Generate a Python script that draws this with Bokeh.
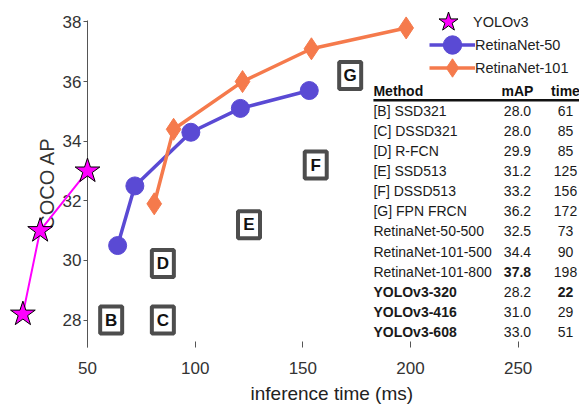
import math
from bokeh.plotting import figure
from bokeh.models import Range1d, FixedTicker, Label, Legend, LegendItem, ColumnDataSource, Title
from bokeh.core.properties import value
from bokeh.embed import file_html
from bokeh.resources import INLINE

# ---------------- data ----------------
yolo_time = [20, 28, 50]
yolo_ap = [28.2, 31.0, 33.0]
rn50_time = [64, 72, 98, 121, 153]
rn50_ap = [30.5, 32.5, 34.3, 35.1, 35.7]
rn101_time = [81, 90, 122, 154, 198]
rn101_ap = [31.9, 34.4, 36.0, 37.1, 37.8]

box_letters = ["B", "C", "D", "E", "F", "G"]
box_time = [61, 85, 85, 125, 156, 172]
box_ap = [28.0, 28.0, 29.9, 31.2, 33.2, 36.2]

table_header = ["Method", "mAP", "time"]
table_method = ["[B] SSD321", "[C] DSSD321", "[D] R-FCN", "[E] SSD513", "[F] DSSD513",
                "[G] FPN FRCN", "RetinaNet-50-500", "RetinaNet-101-500", "RetinaNet-101-800",
                "YOLOv3-320", "YOLOv3-416", "YOLOv3-608"]
table_map = ["28.0", "28.0", "29.9", "31.2", "33.2", "36.2", "32.5", "34.4", "37.8",
             "28.2", "31.0", "33.0"]
table_time = ["61", "85", "85", "125", "156", "172", "73", "90", "198", "22", "29", "51"]
bold_method = [False] * 9 + [True] * 3
bold_map = [False] * 8 + [True] + [False] * 3
bold_time = [False] * 9 + [True, False, False]

x_ticks = [50, 100, 150, 200, 250]
y_ticks = [28, 30, 32, 34, 36, 38]
x_label = "inference time (ms)"
y_label = "COCO AP"
series_labels = ["YOLOv3", "RetinaNet-50", "RetinaNet-101"]

# ---------------- style / layout ----------------
FONT = "Liberation Sans"
MAGENTA = "#ff00ff"
BLUE = "#5a4ad4"
ORANGE = "#f57a4c"
TXT = "#222222"

X0, X1 = 9.6, 278.5
Y0, Y1 = 27.08, 38.72

p = figure(width=579, height=411, output_backend="svg", toolbar_location=None,
           x_range=Range1d(X0, X1), y_range=Range1d(Y0, Y1),
           min_border_left=0, min_border_right=0, min_border_top=0, min_border_bottom=64)
p.grid.visible = False
p.outline_line_color = None
p.background_fill_color = "white"

# x axis
xa = p.xaxis[0]
xa.ticker = FixedTicker(ticks=x_ticks)
xa.axis_line_color = None
xa.major_tick_in = 6
xa.major_tick_out = 0
xa.minor_tick_line_color = None
xa.major_tick_line_color = "#555555"
xa.major_label_text_font = FONT
xa.major_label_text_font_size = "17px"
xa.major_label_text_color = "#333333"
xa.major_label_standoff = 14

# x axis title, placed under the axis
p.add_layout(Title(text=x_label, align="left", offset=250, text_font=FONT,
                   text_font_size="19px", text_font_style="normal", text_color=TXT,
                   standoff=9), "below")

# y axis
ya = p.yaxis[0]
ya.fixed_location = 50
ya.bounds = (Y0, 38.05)
ya.ticker = FixedTicker(ticks=y_ticks)
ya.axis_line_color = "#555555"
ya.major_tick_out = 4
ya.major_tick_in = 0
ya.minor_tick_line_color = None
ya.major_tick_line_color = "#555555"
ya.major_label_text_font = FONT
ya.major_label_text_font_size = "17px"
ya.major_label_text_color = "#333333"
ya.major_label_standoff = 2
ya.level = "underlay"

p.add_layout(Label(x=31.4, y=32.58, angle=math.pi / 2, text=y_label, text_align="center",
                   text_baseline="middle", text_font=FONT, text_font_size="20px",
                   text_color="#333333", level="underlay"))

# series
p.line(yolo_time, yolo_ap, line_color=MAGENTA, line_width=2)
yolo_pts = p.scatter(yolo_time, yolo_ap, marker="star", size=26, fill_color=MAGENTA,
                     line_color="black", line_width=1)
rn50_line = p.line(rn50_time, rn50_ap, line_color=BLUE, line_width=3.5)
rn50_pts = p.scatter(rn50_time, rn50_ap, marker="circle", size=18, fill_color=BLUE,
                     line_color=BLUE)
rn101_line = p.line(rn101_time, rn101_ap, line_color=ORANGE, line_width=3.5)
rn101_pts = p.scatter(rn101_time, rn101_ap, marker="diamond", size=22, fill_color=ORANGE,
                      line_color=ORANGE)

# boxed letters
box_src = ColumnDataSource(dict(x=box_time, y=box_ap, t=box_letters))
p.rect("x", "y", width=22, height=27, width_units="screen", height_units="screen",
       source=box_src, fill_color="white", line_color="#4d4d4d", line_width=4)
p.text("x", "y", text="t", source=box_src, text_align="center", text_baseline="middle",
       text_font=value(FONT), text_font_style="bold", text_font_size="17px",
       text_color="#111111")

# table
TAB_X = [182.8, 249.7, 272.0]
TAB_ALIGN = ["left", "center", "center"]
TAB_Y_HEAD = 35.70
TAB_Y0 = 35.03
TAB_DY = 0.676
UL_Y = 35.37

for j, h in enumerate(table_header):
    p.text([TAB_X[j]], [TAB_Y_HEAD], text=[h], text_align=TAB_ALIGN[j],
           text_baseline="middle", text_font=value(FONT), text_font_style="bold",
           text_font_size="14px", text_color="#111111")
p.segment(x0=[TAB_X[0]], y0=[UL_Y], x1=[X1], y1=[UL_Y], line_color="#111111", line_width=2.5)

cols = [(table_method, bold_method), (table_map, bold_map), (table_time, bold_time)]
for j, (vals, bolds) in enumerate(cols):
    for style in ("normal", "bold"):
        idx = [i for i in range(len(vals)) if (bolds[i] == (style == "bold"))]
        if not idx:
            continue
        src = ColumnDataSource(dict(x=[TAB_X[j]] * len(idx),
                                    y=[TAB_Y0 - TAB_DY * i for i in idx],
                                    t=[vals[i] for i in idx]))
        p.text("x", "y", text="t", source=src, text_align=TAB_ALIGN[j],
               text_baseline="middle", text_font=value(FONT), text_font_style=style,
               text_font_size="14px", text_color="#1a1a1a")

# legend: one Legend per entry so that each row can be placed exactly
legend_specs = [
    (series_labels[0], [yolo_pts], (423, 298), 50),
    (series_labels[1], [rn50_line, rn50_pts], (429, 275), 46),
    (series_labels[2], [rn101_line, rn101_pts], (429, 252), 46),
]
for label, rends, loc, gw in legend_specs:
    lg = Legend(items=[LegendItem(label=label, renderers=rends)], location=loc,
                glyph_width=gw, glyph_height=55, label_standoff=0, padding=0,
                margin=0, spacing=0, border_line_color=None, background_fill_alpha=0,
                label_text_font=FONT, label_text_font_size="14.5px",
                label_text_color=TXT)
    p.add_layout(lg)

open("out.html", "w").write(file_html(p, INLINE))
